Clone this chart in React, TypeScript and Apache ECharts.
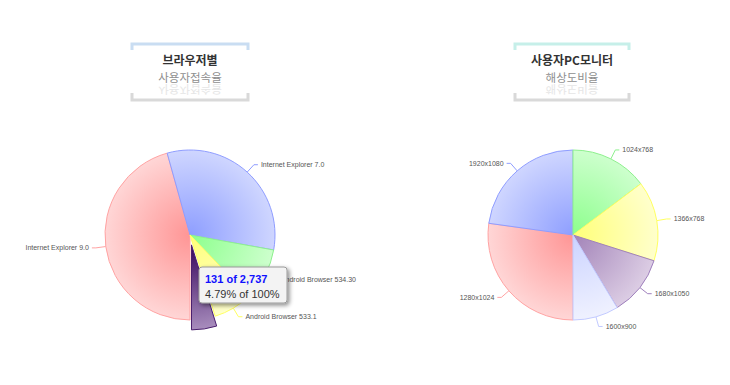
import React, { useEffect, useRef } from "react";
import * as echarts from "echarts";

// ---- data ----
const browserNames = [
  "Internet Explorer 9.0",
  "Internet Explorer 7.0",
  "Android Browser 534.30",
  "Android Browser 533.1",
  "Android Browser 4.0",
];
const browserValues = [1250, 880, 272, 204, 131];
const browserHoverIndex = 4;

const resolutionNames = ["1280x1024", "1920x1080", "1024x768", "1366x768", "1680x1050", "1600x900"];
const resolutionValues = [27.2, 22.8, 14.7, 15.2, 11.4, 8.7];

const leftTitle = ["브라우저별", "사용자접속율"];
const rightTitle = ["사용자PC모니터", "해상도비율"];

// ---- styles ----
const palette = [
  { inner: "#ff9595", outer: "#ffd6d6", border: "#ffa3a3" },
  { inner: "#8e9eff", outer: "#cfd6ff", border: "#8f9dff" },
  { inner: "#8cff8c", outer: "#cdffcd", border: "#8ef08e" },
  { inner: "#ffff78", outer: "#ffffcc", border: "#ffff60" },
  { inner: "#a283b8", outer: "#dccde4", border: "#9f80bd" },
  { inner: "#cbd3ff", outer: "#eff1ff", border: "#c2caff" },
];
const hoverStyle = { inner: "#36065c", outer: "#a88dbd", border: "#4a1f6e" };

const LABEL_FONT = '"Liberation Sans", Arial, sans-serif';
const KR_FONT = '"Noto Sans CJK KR", sans-serif';

export default function App() {
  const ref = useRef<HTMLDivElement>(null);

  useEffect(() => {
    if (!ref.current) return;
    const chart = echarts.init(ref.current, undefined, { renderer: "svg" });

    const R = 85;
    const leftC = [190, 235];
    const rightC = [573, 235];

    const grad = (c: number[], inner: string, outer: string) =>
      new echarts.graphic.RadialGradient(
        c[0],
        c[1],
        R,
        [
          { offset: 0, color: inner },
          { offset: 1, color: outer },
        ],
        true
      );

    const makeData = (names: string[], values: number[], c: number[], hoverIdx: number) =>
      names.map((name, i) => {
        const p = palette[i];
        if (i === hoverIdx) {
          const st = {
            color: grad(c, hoverStyle.inner, hoverStyle.outer),
            borderColor: hoverStyle.border,
            borderWidth: 1,
          };
          return {
            name,
            value: values[i],
            selected: true,
            itemStyle: st,
            select: { itemStyle: st },
            label: { show: false },
            labelLine: { show: false },
          };
        }
        return {
          name,
          value: values[i],
          itemStyle: {
            color: grad(c, p.inner, p.outer),
            borderColor: p.border,
            borderWidth: 1,
          },
          label: { color: "#555" },
          labelLine: { lineStyle: { color: p.border } },
        };
      });

    const pieBase = {
      type: "pie" as const,
      radius: R,
      startAngle: 270,
      clockwise: true,
      avoidLabelOverlap: false,
      selectedMode: "single" as const,
      selectedOffset: 10,
      label: {
        position: "outside" as const,
        fontSize: 7,
        color: "#555",
        fontFamily: LABEL_FONT,
        distanceToLabelLine: 3,
      },
      labelLine: { length: 10, length2: 4, lineStyle: { width: 1 } },
      emphasis: { disabled: true },
    };

    const total = browserValues.reduce((a, b) => a + b, 0);
    const hv = browserValues[browserHoverIndex];
    const fmt = (n: number) => n.toLocaleString("en-US");
    const tipLine1 = `${fmt(hv)} of ${fmt(total)}`;
    const tipLine2 = `${((hv / total) * 100).toFixed(2)}% of 100%`;

    const titleBlock = (cx: number, left: number, right: number, topColor: string, lines: string[]) => ({
      type: "group",
      children: [
        {
          type: "polyline",
          shape: { points: [[left, 50], [left, 44], [right, 44], [right, 50]] },
          style: { stroke: topColor, lineWidth: 3, fill: "none" },
        },
        {
          type: "polyline",
          shape: { points: [[left, 93], [left, 100], [right, 100], [right, 93]] },
          style: { stroke: "#d9d9d9", lineWidth: 3, fill: "none" },
        },
        {
          type: "text",
          x: cx,
          y: 59.5,
          style: {
            text: lines[0],
            align: "center",
            verticalAlign: "middle",
            fill: "#333",
            font: `bold 12px ${KR_FONT}`,
            lineHeight: 12,
          },
        },
        {
          type: "text",
          x: cx,
          y: 76.5,
          style: {
            text: lines[1],
            align: "center",
            verticalAlign: "middle",
            fill: "#8f8f8f",
            font: `11.5px ${KR_FONT}`,
            lineHeight: 12,
          },
        },
        {
          type: "text",
          x: cx,
          y: 89.5,
          scaleY: -1,
          style: {
            text: lines[1],
            align: "center",
            verticalAlign: "middle",
            fill: "#e6e6e6",
            font: `11.5px ${KR_FONT}`,
            lineHeight: 12,
          },
        },
      ],
    });

    chart.setOption({
      animation: false,
      backgroundColor: "#ffffff",
      series: [
        {
          ...pieBase,
          name: "browser",
          center: leftC,
          data: makeData(browserNames, browserValues, leftC, browserHoverIndex),
        },
        {
          ...pieBase,
          name: "resolution",
          center: rightC,
          data: makeData(resolutionNames, resolutionValues, rightC, -1),
        },
      ],
      graphic: [
        titleBlock(190, 132, 248, "#c9ddf2", leftTitle),
        titleBlock(572, 515, 629, "#c6efe9", rightTitle),
        {
          type: "group",
          x: 199,
          y: 267,
          z: 100,
          children: [
            {
              type: "rect",
              z: 100,
              shape: { x: 0, y: 0, width: 88, height: 36, r: 3 },
              style: {
                fill: "#f3f3f3",
                stroke: "#9a9a9a",
                lineWidth: 1,
                shadowBlur: 4,
                shadowOffsetX: 2,
                shadowOffsetY: 2,
                shadowColor: "rgba(0,0,0,0.45)",
              },
            },
            {
              type: "text",
              z: 101,
              x: 6,
              y: 11.5,
              style: {
                text: tipLine1,
                fill: "#1010ff",
                font: `bold 11px ${LABEL_FONT}`,
                verticalAlign: "middle",
              },
            },
            {
              type: "text",
              z: 101,
              x: 6,
              y: 26.5,
              style: {
                text: tipLine2,
                fill: "#333",
                font: `11px ${LABEL_FONT}`,
                verticalAlign: "middle",
              },
            },
          ],
        },
      ],
    });

    return () => chart.dispose();
  }, []);

  return (
    <div
      ref={ref}
      style={{ position: "fixed", left: 0, top: 0, width: 730, height: 385, background: "#fff" }}
    />
  );
}
